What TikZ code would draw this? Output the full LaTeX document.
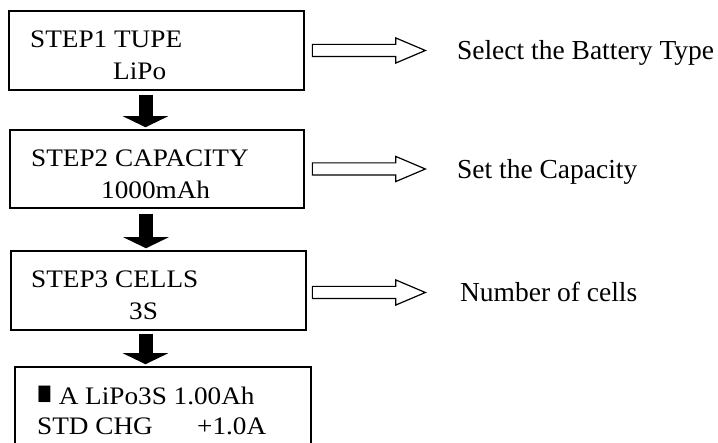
\documentclass[tikz,border=0pt]{standalone}
\usepackage{graphicx}
\usepackage{fontspec}
\setmainfont{Liberation Serif}
\newfontfamily\lcdfont[FakeStretch=1.08]{Liberation Serif}
\usepackage{tikz}
\usetikzlibrary{arrows.meta,shapes.arrows,positioning}

\begin{document}
\begin{tikzpicture}[x=1pt, y=-1pt,
        stepbox/.style={draw, line width=1.5pt, rectangle, inner sep=0pt},
        lcd/.style={font=\lcdfont\fontsize{25.2}{29}\selectfont, inner sep=0pt, anchor=base west},
        flow/.style={line width=14pt, -{Triangle[length=11pt,width=45pt]}},
        hollow/.style={single arrow, draw, line width=1.2pt, minimum height=113pt,
            inner xsep=0pt, inner ysep=5.5pt, single arrow head extend=6.5pt,
            single arrow tip angle=46},
        note/.style={font=\fontsize{27.5}{32}\selectfont, inner sep=0pt,
            text height=18.4pt, text depth=0pt, anchor=west}]
        \clip (0, 0) rectangle (718, 443);
        % screens
        \node[stepbox, minimum width=295pt, minimum height=79pt] (type) at (156.5, 50.5) {};
        \node[stepbox, minimum width=294pt, minimum height=78pt] (cap) at (157, 169) {};
        \node[stepbox, minimum width=295pt, minimum height=79pt] (cells) at (158.5, 290.5) {};
        \node[stepbox, minimum width=296pt, minimum height=78pt] (run) at (163, 406) {};
        \node[lcd] (typea) at (30, 47.5) {STEP1 TUPE};
        \node[lcd] (typeb) at (113, 79.5) {LiPo};
        \node[lcd] (capa) at (31, 166.7) {STEP2 CAPACITY};
        \node[lcd] (capb) at (101, 199) {1000mAh};
        \node[lcd] (cellsa) at (31, 288) {STEP3 CELLS};
        \node[lcd] (cellsb) at (129, 320) {3S};
        \node[lcd] (runa) at (37, 405) {\scalebox{0.9}[1.35]{■} A LiPo3S 1.00Ah};
        \node[lcd] (runb) at (37, 435) {STD CHG};
        \node[lcd] (runc) at (197, 435) {+1.0A};
        % black arrows
        \draw[flow, shorten <=4pt, shorten >=2pt] ([xshift=-11pt]type.south) -- ([xshift=-11pt]type.south |- cap.north);
        \draw[flow, shorten <=5pt, shorten >=2pt] ([xshift=-11pt]cap.south) -- ([xshift=-11pt]cap.south |- cells.north);
        \draw[flow, shorten <=3pt, shorten >=2pt] ([xshift=-13pt]cells.south) -- ([xshift=-13pt]cells.south |- run.north);
        % hollow arrows and notes
        \node[hollow, right=7pt of type] (arra) {};
        \node[hollow, right=7pt of cap] (arrb) {};
        \node[hollow, right=5pt of cells, yshift=-2pt] (arrc) {};
        \node[note, right=30pt of arra] (notea) {Select the Battery Type};
        \node[note, right=30pt of arrb] (noteb) {Set the Capacity};
        \node[note, right=33pt of arrc] (notec) {Number of cells};
\end{tikzpicture}
\end{document}
